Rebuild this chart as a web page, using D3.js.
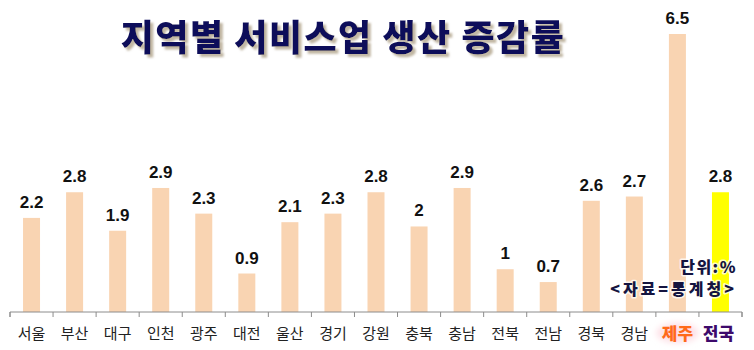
<!DOCTYPE html>
<html>
<head>
<meta charset="utf-8">
<script src="https://cdn.jsdelivr.net/npm/d3@7"></script>
<style>
  html, body { margin: 0; padding: 0; background: #fff; }
  svg { display: block; }
</style>
</head>
<body>
<svg id="chart" width="754" height="350"></svg>
<script>
// Regions and service-industry production change rate (%)
const regions = ["서울", "부산", "대구", "인천", "광주", "대전", "울산", "경기", "강원",
                 "충북", "충남", "전북", "전남", "경북", "경남", "제주", "전국"];
const values = [2.2, 2.8, 1.9, 2.9, 2.3, 0.9, 2.1, 2.3, 2.8, 2, 2.9, 1, 0.7, 2.6, 2.7, 6.5, 2.8];
const title = "지역별 서비스업 생산 증감률";
const unitLabel = "단위:%";
const sourceLabel = "<자료=통계청>";

const W = 754, H = 350;
const svg = d3.select("#chart");
const font = "'Noto Sans CJK KR', 'Noto Sans', sans-serif";

const defs = svg.append("defs");
const shadow = defs.append("filter").attr("id", "titleShadow")
  .attr("x", "-5%").attr("y", "-20%").attr("width", "115%").attr("height", "160%");
shadow.append("feDropShadow").attr("dx", 3).attr("dy", 3).attr("stdDeviation", 1.2)
  .attr("flood-color", "#b9ad98").attr("flood-opacity", 0.9);
const glow = defs.append("filter").attr("id", "labelGlow")
  .attr("x", "-30%").attr("y", "-40%").attr("width", "160%").attr("height", "180%");
glow.append("feGaussianBlur").attr("stdDeviation", 3);

const x = d3.scaleBand().domain(regions).range([10, 742]).paddingInner(0).paddingOuter(0);
const y = d3.scaleLinear().domain([0, 6.5]).range([312, 34]);
const barW = 17;

// Title
svg.append("text")
  .attr("x", 343).attr("y", 51)
  .attr("text-anchor", "middle")
  .attr("font-family", font).attr("font-weight", 900).attr("font-size", 36)
  .attr("letter-spacing", 1.5)
  .attr("fill", "#10105a")
  .attr("filter", "url(#titleShadow)")
  .text(title);

// Bars
svg.append("g").selectAll("rect")
  .data(regions)
  .join("rect")
  .attr("x", (d) => x(d) + x.bandwidth() / 2 - barW / 2)
  .attr("y", (d, i) => y(values[i]))
  .attr("width", barW)
  .attr("height", (d, i) => y(0) - y(values[i]))
  .attr("fill", (d) => d === "전국" ? "#ffff00" : "#f9d4b2");

// Value labels
svg.append("g").selectAll("text")
  .data(regions)
  .join("text")
  .attr("x", (d) => x(d) + x.bandwidth() / 2)
  .attr("y", (d, i) => y(values[i]) - 10)
  .attr("text-anchor", "middle")
  .attr("font-family", "'Liberation Sans', Arial, sans-serif")
  .attr("font-weight", "bold").attr("font-size", 17)
  .attr("fill", "#111")
  .text((d, i) => values[i]);

// Axis line with category dividers
const axis = d3.axisBottom(x).tickSize(5).tickFormat("");
const axisG = svg.append("g").attr("transform", `translate(0,${y(0)})`).call(axis);
axisG.select(".domain").attr("stroke", "#8c8c8c").attr("d", `M10,5V0H742V5`);
axisG.selectAll(".tick").remove();
axisG.selectAll(".edge")
  .data(d3.range(regions.length + 1))
  .join("line")
  .attr("x1", (i) => 10 + i * x.bandwidth()).attr("x2", (i) => 10 + i * x.bandwidth())
  .attr("y1", 0).attr("y2", 5)
  .attr("stroke", "#8c8c8c");

// Category labels
const catG = svg.append("g");
catG.append("ellipse")
  .attr("cx", x("제주") + x.bandwidth() / 2).attr("cy", 333)
  .attr("rx", 21).attr("ry", 10)
  .attr("fill", "#fde0e6").attr("filter", "url(#labelGlow)");
const highlight = (d) => d === "제주" || d === "전국";
catG.selectAll("text")
  .data(regions)
  .join("text")
  .attr("x", (d) => x(d) + x.bandwidth() / 2 + (d === "전국" ? -2 : 0))
  .attr("y", (d) => highlight(d) ? 340 : 339)
  .attr("text-anchor", "middle")
  .attr("font-family", font)
  .attr("font-size", (d) => highlight(d) ? 17 : 15)
  .attr("font-weight", (d) => highlight(d) ? 900 : 400)
  .attr("fill", (d) => d === "제주" ? "#ff6a1a" : d === "전국" ? "#3d0a6b" : "#222")
  .text((d) => d);

// Unit and source notes
const notes = svg.append("g")
  .attr("font-family", font).attr("font-weight", 900).attr("font-size", 16)
  .attr("fill", "#141440").attr("text-anchor", "end")
  .attr("stroke", "rgba(255,255,255,0.75)").attr("stroke-width", 3)
  .attr("paint-order", "stroke").attr("stroke-linejoin", "round");
notes.append("text").attr("x", 737).attr("y", 273).attr("letter-spacing", 1.5).text(unitLabel);
notes.append("text").attr("x", 737).attr("y", 295).attr("letter-spacing", 3).text(sourceLabel);
</script>
</body>
</html>
